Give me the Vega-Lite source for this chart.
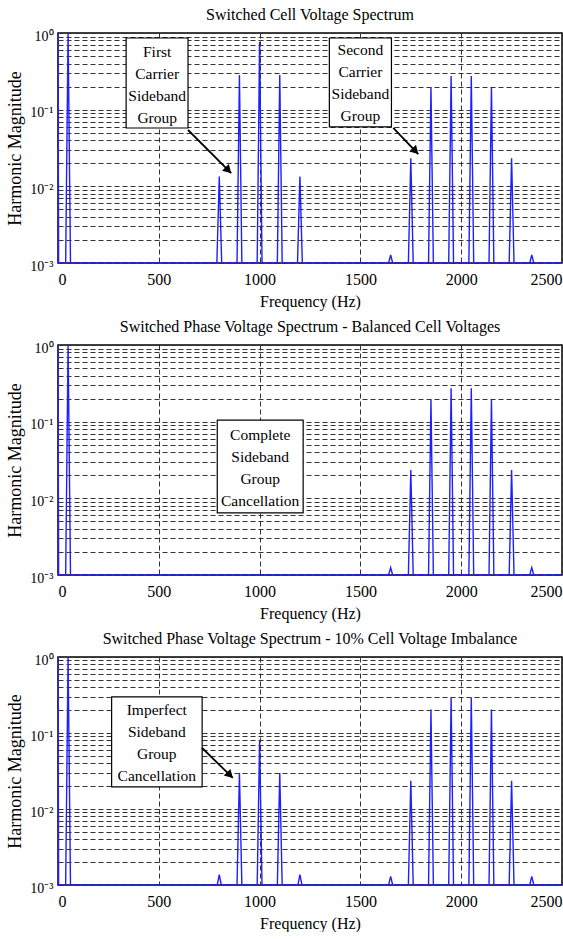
{
  "$schema": "https://vega.github.io/schema/vega-lite/v6.json",
  "padding": {"left": 6, "top": 6, "right": 0, "bottom": 0},
  "spacing": 8,
  "config": {
    "font": "Liberation Serif",
    "view": {"stroke": "#000", "strokeWidth": 1.5},
    "axis": {
      "labelFont": "Liberation Serif", "titleFont": "Liberation Serif",
      "labelColor": "#000", "titleColor": "#000", "titleFontWeight": "normal",
      "grid": true, "gridColor": "#333", "gridDash": [5, 3], "gridWidth": 1,
      "domain": false, "ticks": false
    },
    "title": {"font": "Liberation Serif", "fontSize": 16, "fontWeight": "normal", "color": "#000", "offset": 6}
  },
  "datasets": {
    "s1": [
      {"f": 0, "v": 1}, {"f": 3, "v": 0.001},
      {"f": 38, "v": 0.001}, {"f": 50, "v": 1}, {"f": 62, "v": 0.001},
      {"f": 788, "v": 0.001}, {"f": 800, "v": 0.0134}, {"f": 812, "v": 0.001},
      {"f": 888, "v": 0.001}, {"f": 900, "v": 0.283}, {"f": 912, "v": 0.001},
      {"f": 988, "v": 0.001}, {"f": 1000, "v": 0.77}, {"f": 1012, "v": 0.001},
      {"f": 1088, "v": 0.001}, {"f": 1100, "v": 0.283}, {"f": 1112, "v": 0.001},
      {"f": 1188, "v": 0.001}, {"f": 1200, "v": 0.0134}, {"f": 1212, "v": 0.001},
      {"f": 1640, "v": 0.001}, {"f": 1650, "v": 0.00127}, {"f": 1660, "v": 0.001},
      {"f": 1738, "v": 0.001}, {"f": 1750, "v": 0.0232}, {"f": 1762, "v": 0.001},
      {"f": 1838, "v": 0.001}, {"f": 1850, "v": 0.196}, {"f": 1862, "v": 0.001},
      {"f": 1938, "v": 0.001}, {"f": 1950, "v": 0.275}, {"f": 1962, "v": 0.001},
      {"f": 2038, "v": 0.001}, {"f": 2050, "v": 0.275}, {"f": 2062, "v": 0.001},
      {"f": 2138, "v": 0.001}, {"f": 2150, "v": 0.196}, {"f": 2162, "v": 0.001},
      {"f": 2238, "v": 0.001}, {"f": 2250, "v": 0.0232}, {"f": 2262, "v": 0.001},
      {"f": 2340, "v": 0.001}, {"f": 2350, "v": 0.00127}, {"f": 2360, "v": 0.001},
      {"f": 2500, "v": 0.001}
    ],
    "s2": [
      {"f": 0, "v": 1}, {"f": 3, "v": 0.001},
      {"f": 38, "v": 0.001}, {"f": 50, "v": 1}, {"f": 62, "v": 0.001},
      {"f": 1640, "v": 0.001}, {"f": 1650, "v": 0.00125}, {"f": 1660, "v": 0.001},
      {"f": 1738, "v": 0.001}, {"f": 1750, "v": 0.0234}, {"f": 1762, "v": 0.001},
      {"f": 1838, "v": 0.001}, {"f": 1850, "v": 0.193}, {"f": 1862, "v": 0.001},
      {"f": 1938, "v": 0.001}, {"f": 1950, "v": 0.272}, {"f": 1962, "v": 0.001},
      {"f": 2038, "v": 0.001}, {"f": 2050, "v": 0.272}, {"f": 2062, "v": 0.001},
      {"f": 2138, "v": 0.001}, {"f": 2150, "v": 0.193}, {"f": 2162, "v": 0.001},
      {"f": 2238, "v": 0.001}, {"f": 2250, "v": 0.0234}, {"f": 2262, "v": 0.001},
      {"f": 2340, "v": 0.001}, {"f": 2350, "v": 0.00125}, {"f": 2360, "v": 0.001},
      {"f": 2500, "v": 0.001}
    ],
    "s3": [
      {"f": 0, "v": 1}, {"f": 3, "v": 0.001},
      {"f": 38, "v": 0.001}, {"f": 50, "v": 1}, {"f": 62, "v": 0.001},
      {"f": 790, "v": 0.001}, {"f": 800, "v": 0.00137}, {"f": 810, "v": 0.001},
      {"f": 888, "v": 0.001}, {"f": 900, "v": 0.0298}, {"f": 912, "v": 0.001},
      {"f": 988, "v": 0.001}, {"f": 1000, "v": 0.079}, {"f": 1012, "v": 0.001},
      {"f": 1088, "v": 0.001}, {"f": 1100, "v": 0.0298}, {"f": 1112, "v": 0.001},
      {"f": 1190, "v": 0.001}, {"f": 1200, "v": 0.00137}, {"f": 1210, "v": 0.001},
      {"f": 1640, "v": 0.001}, {"f": 1650, "v": 0.0013}, {"f": 1660, "v": 0.001},
      {"f": 1738, "v": 0.001}, {"f": 1750, "v": 0.0236}, {"f": 1762, "v": 0.001},
      {"f": 1838, "v": 0.001}, {"f": 1850, "v": 0.203}, {"f": 1862, "v": 0.001},
      {"f": 1938, "v": 0.001}, {"f": 1950, "v": 0.29}, {"f": 1962, "v": 0.001},
      {"f": 2038, "v": 0.001}, {"f": 2050, "v": 0.29}, {"f": 2062, "v": 0.001},
      {"f": 2138, "v": 0.001}, {"f": 2150, "v": 0.203}, {"f": 2162, "v": 0.001},
      {"f": 2238, "v": 0.001}, {"f": 2250, "v": 0.0236}, {"f": 2262, "v": 0.001},
      {"f": 2340, "v": 0.001}, {"f": 2350, "v": 0.0013}, {"f": 2360, "v": 0.001},
      {"f": 2500, "v": 0.001}
    ]
  },
  "vconcat": [
    {
      "title": "Switched Cell Voltage Spectrum",
      "width": 504, "height": 230,
      "encoding": {
        "x": {"field": "f", "type": "quantitative", "scale": {"domain": [0, 2500], "nice": false, "zero": false},
              "axis": {"title": "Frequency (Hz)", "values": [0, 500, 1000, 1500, 2000, 2500], "format": "d", "labelFontSize": 16, "titleFontSize": 16, "labelPadding": 8, "titlePadding": 6}},
        "y": {"field": "v", "type": "quantitative", "scale": {"type": "log", "domain": [0.001, 1], "nice": false},
              "axis": {"title": "Harmonic Magnitude", "values": [0.001, 0.002, 0.003, 0.004, 0.005, 0.006, 0.007, 0.008, 0.009, 0.01, 0.02, 0.03, 0.04, 0.05, 0.06, 0.07, 0.08, 0.09, 0.1, 0.2, 0.3, 0.4, 0.5, 0.6, 0.7, 0.8, 0.9, 1],
                       "labelExpr": "datum.value == 1 ? '10⁰' : datum.value == 0.1 ? '10⁻¹' : datum.value == 0.01 ? '10⁻²' : datum.value == 0.001 ? '10⁻³' : ''",
                       "labelOverlap": false, "labelFontSize": 14, "titleFontSize": 18, "labelPadding": 5, "titlePadding": 5, "labelOffset": 3}}
      },
      "layer": [
        {"data": {"name": "s1"}, "mark": {"type": "line", "color": "#1f1fff", "strokeWidth": 1.4, "clip": true}},
        {"data": {"values": [{"f": 338, "f2": 645, "v": 0.86, "v2": 0.0577}, {"f": 1346, "f2": 1654, "v": 0.86, "v2": 0.0595}]},
         "mark": {"type": "rect", "fill": "#fff", "stroke": "#000", "strokeWidth": 1.2},
         "encoding": {"x2": {"field": "f2"}, "y2": {"field": "v2"}}},
        {"data": {"values": [{"f": 492, "v": 0.57, "t": "First\nCarrier\nSideband\nGroup"}, {"f": 1500, "v": 0.6, "t": "Second\nCarrier\nSideband\nGroup"}]},
         "mark": {"type": "text", "fontSize": 15.5, "lineHeight": 22, "align": "center", "baseline": "middle", "lineBreak": "\n", "color": "#000"},
         "encoding": {"text": {"field": "t"}}},
        {"data": {"values": [{"f": 645, "v": 0.0543, "f2": 859, "v2": 0.0149}, {"f": 1663, "v": 0.0577, "f2": 1787, "v2": 0.0264}]},
         "mark": {"type": "rule", "color": "#000", "strokeWidth": 1.8},
         "encoding": {"x2": {"field": "f2"}, "y2": {"field": "v2"}}},
        {"data": {"values": [{"f": 845, "v": 0.0162, "a": 135}, {"f": 1773, "v": 0.0288, "a": 136}]},
         "mark": {"type": "point", "shape": "triangle-up", "filled": true, "size": 90, "color": "#000", "opacity": 1},
         "encoding": {"angle": {"field": "a", "type": "quantitative", "scale": null}}}
      ]
    },
    {
      "title": "Switched Phase Voltage Spectrum - Balanced Cell Voltages",
      "width": 504, "height": 230,
      "encoding": {
        "x": {"field": "f", "type": "quantitative", "scale": {"domain": [0, 2500], "nice": false, "zero": false},
              "axis": {"title": "Frequency (Hz)", "values": [0, 500, 1000, 1500, 2000, 2500], "format": "d", "labelFontSize": 16, "titleFontSize": 16, "labelPadding": 8, "titlePadding": 6}},
        "y": {"field": "v", "type": "quantitative", "scale": {"type": "log", "domain": [0.001, 1], "nice": false},
              "axis": {"title": "Harmonic Magnitude", "values": [0.001, 0.002, 0.003, 0.004, 0.005, 0.006, 0.007, 0.008, 0.009, 0.01, 0.02, 0.03, 0.04, 0.05, 0.06, 0.07, 0.08, 0.09, 0.1, 0.2, 0.3, 0.4, 0.5, 0.6, 0.7, 0.8, 0.9, 1],
                       "labelExpr": "datum.value == 1 ? '10⁰' : datum.value == 0.1 ? '10⁻¹' : datum.value == 0.01 ? '10⁻²' : datum.value == 0.001 ? '10⁻³' : ''",
                       "labelOverlap": false, "labelFontSize": 14, "titleFontSize": 18, "labelPadding": 5, "titlePadding": 5, "labelOffset": 3}}
      },
      "layer": [
        {"data": {"name": "s2"}, "mark": {"type": "line", "color": "#1f1fff", "strokeWidth": 1.4, "clip": true}},
        {"data": {"values": [{"f": 790, "f2": 1216, "v": 0.105, "v2": 0.00645}]},
         "mark": {"type": "rect", "fill": "#fff", "stroke": "#000", "strokeWidth": 1.2},
         "encoding": {"x2": {"field": "f2"}, "y2": {"field": "v2"}}},
        {"data": {"values": [{"f": 1003, "v": 0.067, "t": "Complete\nSideband\nGroup\nCancellation"}]},
         "mark": {"type": "text", "fontSize": 15.5, "lineHeight": 22, "align": "center", "baseline": "middle", "lineBreak": "\n", "color": "#000"},
         "encoding": {"text": {"field": "t"}}}
      ]
    },
    {
      "title": "Switched Phase Voltage Spectrum - 10% Cell Voltage Imbalance",
      "width": 504, "height": 228,
      "encoding": {
        "x": {"field": "f", "type": "quantitative", "scale": {"domain": [0, 2500], "nice": false, "zero": false},
              "axis": {"title": "Frequency (Hz)", "values": [0, 500, 1000, 1500, 2000, 2500], "format": "d", "labelFontSize": 16, "titleFontSize": 16, "labelPadding": 8, "titlePadding": 6}},
        "y": {"field": "v", "type": "quantitative", "scale": {"type": "log", "domain": [0.001, 1], "nice": false},
              "axis": {"title": "Harmonic Magnitude", "values": [0.001, 0.002, 0.003, 0.004, 0.005, 0.006, 0.007, 0.008, 0.009, 0.01, 0.02, 0.03, 0.04, 0.05, 0.06, 0.07, 0.08, 0.09, 0.1, 0.2, 0.3, 0.4, 0.5, 0.6, 0.7, 0.8, 0.9, 1],
                       "labelExpr": "datum.value == 1 ? '10⁰' : datum.value == 0.1 ? '10⁻¹' : datum.value == 0.01 ? '10⁻²' : datum.value == 0.001 ? '10⁻³' : ''",
                       "labelOverlap": false, "labelFontSize": 14, "titleFontSize": 18, "labelPadding": 5, "titlePadding": 5, "labelOffset": 3}}
      },
      "layer": [
        {"data": {"name": "s3"}, "mark": {"type": "line", "color": "#1f1fff", "strokeWidth": 1.4, "clip": true}},
        {"data": {"values": [{"f": 266, "f2": 715, "v": 0.298, "v2": 0.0195}]},
         "mark": {"type": "rect", "fill": "#fff", "stroke": "#000", "strokeWidth": 1.2},
         "encoding": {"x2": {"field": "f2"}, "y2": {"field": "v2"}}},
        {"data": {"values": [{"f": 490, "v": 0.203, "t": "Imperfect\nSideband\nGroup\nCancellation"}]},
         "mark": {"type": "text", "fontSize": 15.5, "lineHeight": 22, "align": "center", "baseline": "middle", "lineBreak": "\n", "color": "#000"},
         "encoding": {"text": {"field": "t"}}},
        {"data": {"values": [{"f": 715, "v": 0.0635, "f2": 867, "v2": 0.0256}]},
         "mark": {"type": "rule", "color": "#000", "strokeWidth": 1.8},
         "encoding": {"x2": {"field": "f2"}, "y2": {"field": "v2"}}},
        {"data": {"values": [{"f": 853, "v": 0.0279, "a": 135}]},
         "mark": {"type": "point", "shape": "triangle-up", "filled": true, "size": 90, "color": "#000", "opacity": 1},
         "encoding": {"angle": {"field": "a", "type": "quantitative", "scale": null}}}
      ]
    }
  ]
}
